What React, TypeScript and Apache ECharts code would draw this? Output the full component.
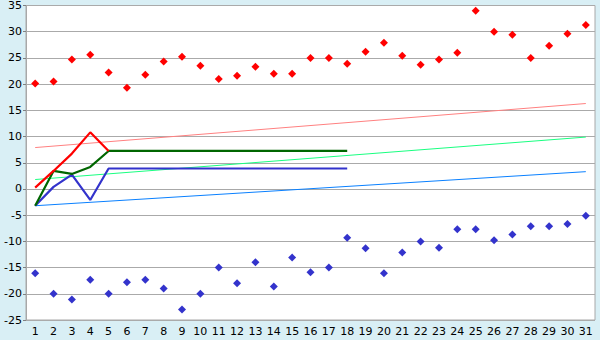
import React, { useEffect, useRef } from "react";
import * as echarts from "echarts";

const days = ["1","2","3","4","5","6","7","8","9","10","11","12","13","14","15","16","17","18","19","20","21","22","23","24","25","26","27","28","29","30","31"];

const highs = [20.1, 20.5, 24.7, 25.6, 22.2, 19.3, 21.8, 24.3, 25.2, 23.5, 21.0, 21.6, 23.3, 22.0, 22.0, 25.0, 25.0, 23.9, 26.2, 27.9, 25.4, 23.7, 24.7, 26.0, 34.0, 30.0, 29.4, 25.0, 27.3, 29.6, 31.3];
const lows = [-16.1, -20.0, -21.1, -17.3, -20.0, -17.8, -17.3, -19.0, -23.0, -20.0, -15.0, -18.0, -14.0, -18.6, -13.1, -15.9, -15.0, -9.3, -11.3, -16.1, -12.1, -10.0, -11.2, -7.7, -7.7, -9.8, -8.7, -7.1, -7.1, -6.7, -5.1];

// trend lines: value at day 1 and at day 31
const trendHigh = [7.9, 16.3];
const trendMid = [1.8, 9.9];
const trendLow = [-3.2, 3.3];

const redLine = [0.25, 3.44, 6.75, 10.8, 7.25];
const greenLine = [-3.2, 3.44, 2.87, 4.2, 7.25, 7.25, 7.25, 7.25, 7.25, 7.25, 7.25, 7.25, 7.25, 7.25, 7.25, 7.25, 7.25, 7.25];
const blueLine = [-3.2, 0.4, 2.75, -2.1, 3.9, 3.9, 3.9, 3.9, 3.9, 3.9, 3.9, 3.9, 3.9, 3.9, 3.9, 3.9, 3.9, 3.9];

const yMin = -25;
const yMax = 35;
const yStep = 5;

function trendData(t: number[]) {
  return days.map((_, i) => (i === 0 ? t[0] : i === days.length - 1 ? t[1] : null));
}

export default function App() {
  const ref = useRef<HTMLDivElement>(null);
  useEffect(() => {
    if (!ref.current) return;
    const chart = echarts.init(ref.current, null, { renderer: "svg" });
    const font = "DejaVu Sans";
    const trend = (name: string, t: number[], color: string) => ({
      name,
      type: "line",
      data: trendData(t),
      connectNulls: true,
      showSymbol: false,
      symbol: "none",
      lineStyle: { color, width: 1 },
      z: 2,
    });
    const line = (name: string, d: number[], color: string, width: number, z: number) => ({
      name,
      type: "line",
      data: d,
      symbol: "none",
      lineStyle: { color, width },
      z,
    });
    chart.setOption({
      animation: false,
      backgroundColor: "#d9eff5",
      textStyle: { fontFamily: font },
      grid: {
        left: 26,
        right: 5,
        top: 5,
        bottom: 20,
        show: true,
        backgroundColor: "#ffffff",
        borderColor: "#a8a8a8",
        borderWidth: 1,
      },
      xAxis: {
        type: "category",
        data: days,
        boundaryGap: true,
        axisLine: { lineStyle: { color: "#a8a8a8", width: 1 } },
        axisTick: { alignWithLabel: true, length: 4, lineStyle: { color: "#808080" } },
        axisLabel: { color: "#000", fontSize: 11, fontFamily: font, margin: 6, interval: 0 },
        splitLine: { show: false },
      },
      yAxis: {
        type: "value",
        min: yMin,
        max: yMax,
        interval: yStep,
        axisLine: { show: true, lineStyle: { color: "#a8a8a8", width: 1 } },
        axisTick: { show: true, length: 3, lineStyle: { color: "#808080" } },
        axisLabel: { color: "#000", fontSize: 11, fontFamily: font, margin: 4 },
        splitLine: { show: true, lineStyle: { color: "#aaaaaa", width: 1 } },
      },
      series: [
        trend("trendHigh", trendHigh, "#ff8080"),
        trend("trendMid", trendMid, "#19ff80"),
        trend("trendLow", trendLow, "#0a80ff"),
        line("blue", blueLine, "#3333cc", 2.2, 3),
        line("green", greenLine, "#006600", 2.2, 4),
        line("red", redLine, "#ff0000", 2.2, 5),
        {
          name: "high",
          type: "scatter",
          data: highs,
          symbol: "diamond",
          symbolSize: 8,
          itemStyle: { color: "#ff0000", opacity: 1 },
          z: 6,
        },
        {
          name: "low",
          type: "scatter",
          data: lows,
          symbol: "diamond",
          symbolSize: 8,
          itemStyle: { color: "#3333cc", opacity: 1 },
          z: 6,
        },
      ],
    });
    return () => chart.dispose();
  }, []);
  return (
    <div
      ref={ref}
      style={{ position: "fixed", left: 0, top: 0, width: 600, height: 340 }}
    />
  );
}
